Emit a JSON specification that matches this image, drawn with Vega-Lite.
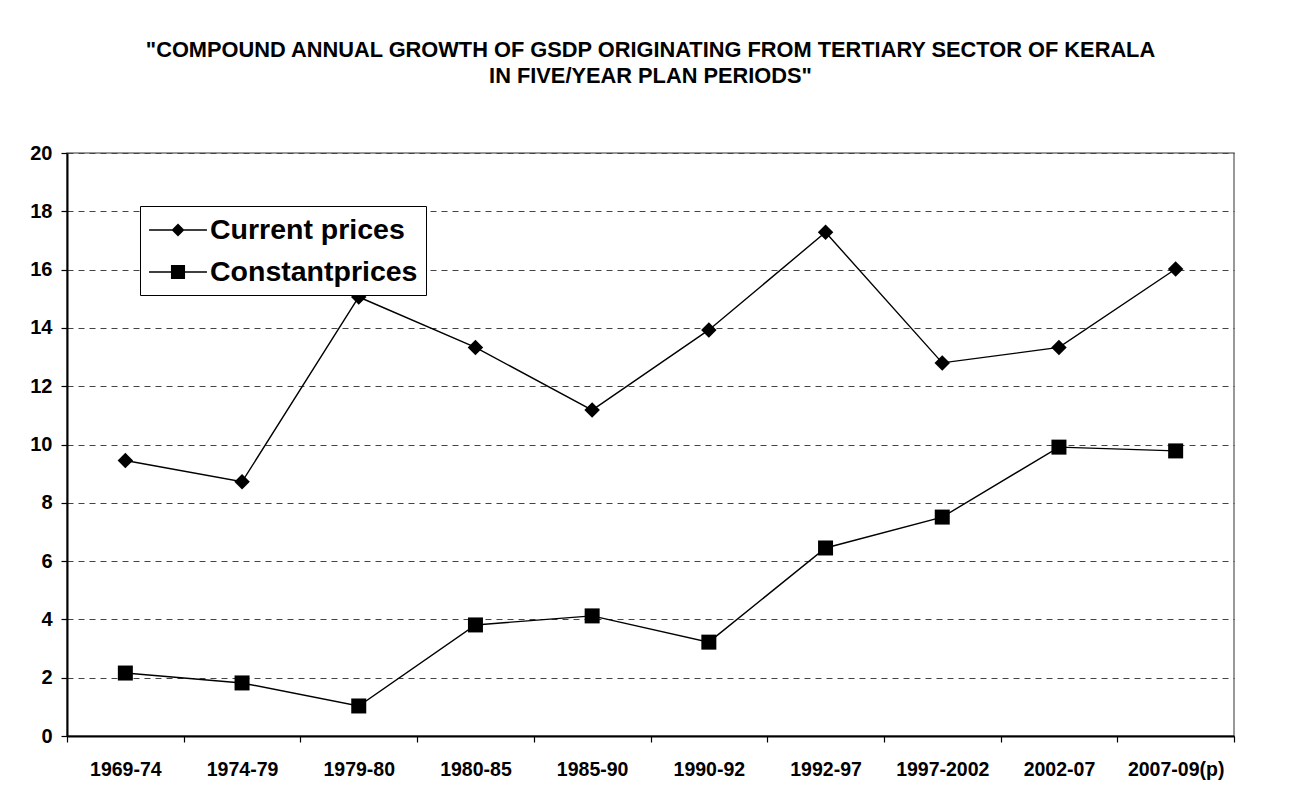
{
  "$schema": "https://vega.github.io/schema/vega-lite/v6.json",
  "width": 1167,
  "height": 583,
  "padding": {"left": 29, "top": 40, "right": 59, "bottom": 20},
  "background": "white",
  "title": {
    "text": ["\"COMPOUND ANNUAL GROWTH OF GSDP ORIGINATING FROM TERTIARY SECTOR OF KERALA", "IN FIVE/YEAR PLAN PERIODS\""],
    "font": "Liberation Sans",
    "fontSize": 21.8,
    "fontWeight": "bold",
    "color": "black",
    "lineHeight": 26,
    "offset": 55,
    "anchor": "middle"
  },
  "config": {
    "view": {"stroke": "#777", "strokeWidth": 1.5},
    "axis": {
      "labelFont": "Liberation Sans",
      "labelFontWeight": "bold",
      "labelColor": "black",
      "domainColor": "black",
      "domainWidth": 2,
      "tickColor": "black",
      "tickWidth": 1.2,
      "title": null
    }
  },
  "data": {
    "values": [
      {"period": "1969-74", "series": "Current prices", "value": 9.45},
      {"period": "1974-79", "series": "Current prices", "value": 8.72},
      {"period": "1979-80", "series": "Current prices", "value": 15.06},
      {"period": "1980-85", "series": "Current prices", "value": 13.33},
      {"period": "1985-90", "series": "Current prices", "value": 11.18},
      {"period": "1990-92", "series": "Current prices", "value": 13.93},
      {"period": "1992-97", "series": "Current prices", "value": 17.28},
      {"period": "1997-2002", "series": "Current prices", "value": 12.8},
      {"period": "2002-07", "series": "Current prices", "value": 13.33},
      {"period": "2007-09(p)", "series": "Current prices", "value": 16.02},
      {"period": "1969-74", "series": "Constantprices", "value": 2.16},
      {"period": "1974-79", "series": "Constantprices", "value": 1.82},
      {"period": "1979-80", "series": "Constantprices", "value": 1.03},
      {"period": "1980-85", "series": "Constantprices", "value": 3.81},
      {"period": "1985-90", "series": "Constantprices", "value": 4.12},
      {"period": "1990-92", "series": "Constantprices", "value": 3.22},
      {"period": "1992-97", "series": "Constantprices", "value": 6.45},
      {"period": "1997-2002", "series": "Constantprices", "value": 7.51},
      {"period": "2002-07", "series": "Constantprices", "value": 9.91},
      {"period": "2007-09(p)", "series": "Constantprices", "value": 9.78}
    ]
  },
  "encoding": {
    "x": {
      "field": "period",
      "type": "nominal",
      "sort": null,
      "scale": {"type": "band", "paddingInner": 0, "paddingOuter": 0},
      "axis": {
        "labelAngle": 0,
        "labelFontSize": 19.5,
        "labelPadding": 18,
        "tickBand": "extent",
        "tickSize": 6,
        "grid": false
      }
    },
    "y": {
      "field": "value",
      "type": "quantitative",
      "scale": {"domain": [0, 20], "nice": false, "zero": true},
      "axis": {
        "values": [0, 2, 4, 6, 8, 10, 12, 14, 16, 18, 20],
        "labelFontSize": 20,
        "labelPadding": 9,
        "tickSize": 6,
        "grid": true,
        "gridColor": "#444",
        "gridDash": [6, 5],
        "gridWidth": 1
      }
    }
  },
  "layer": [
    {
      "mark": {"type": "line", "color": "black", "strokeWidth": 1.4},
      "encoding": {"detail": {"field": "series"}}
    },
    {
      "transform": [{"filter": "datum.series === 'Current prices'"}],
      "mark": {"type": "point", "filled": true, "color": "black", "opacity": 1, "size": 240, "shape": "diamond"}
    },
    {
      "transform": [{"filter": "datum.series === 'Constantprices'"}],
      "mark": {"type": "point", "filled": true, "color": "black", "opacity": 1, "size": 225, "shape": "square"}
    },
    {
      "mark": {"type": "point", "filled": true, "color": "black", "opacity": 0, "size": 10},
      "encoding": {
        "shape": {
          "field": "series",
          "type": "nominal",
          "scale": {
            "domain": ["Current prices", "Constantprices"],
            "range": [
              "M-1.93,-0.05L1.93,-0.05L1.93,0.05L-1.93,0.05ZM0,-0.43L0.43,0L0,0.43L-0.43,0Z",
              "M-1.93,-0.05L1.93,-0.05L1.93,0.05L-1.93,0.05ZM-0.47,-0.47L0.47,-0.47L0.47,0.47L-0.47,0.47Z"
            ]
          },
          "legend": {
            "title": null,
            "orient": "none",
            "legendX": 73,
            "legendY": 53,
            "padding": 8,
            "strokeColor": "black",
            "fillColor": "white",
            "labelFont": "Liberation Sans",
            "labelFontSize": 28.5,
            "labelFontWeight": "bold",
            "labelColor": "black",
            "labelOffset": 16,
            "labelLimit": 500,
            "rowPadding": 11,
            "symbolSize": 900,
            "symbolOffset": 14,
            "symbolFillColor": "black",
            "symbolStrokeColor": "black",
            "symbolOpacity": 1
          }
        }
      }
    }
  ]
}
